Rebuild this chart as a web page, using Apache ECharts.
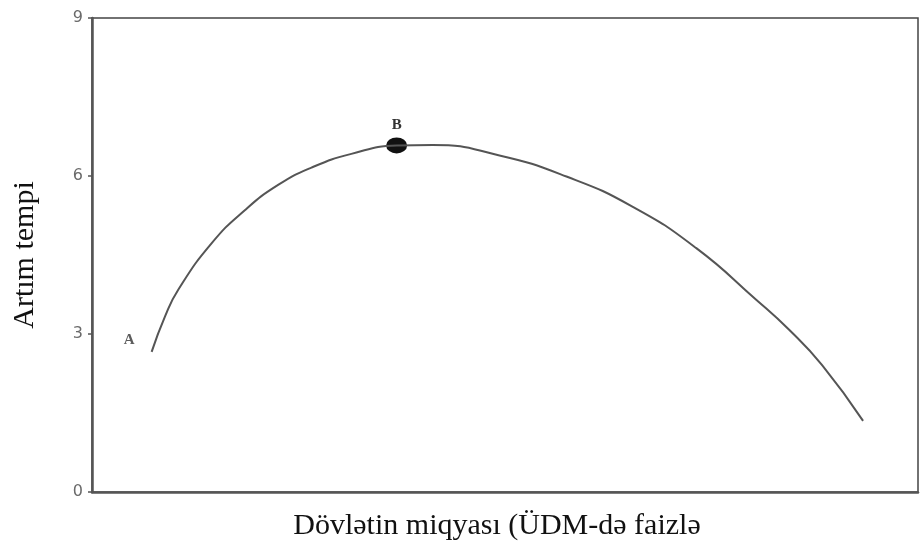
<!DOCTYPE html>
<html>
<head>
<meta charset="utf-8">
<script src="https://cdn.jsdelivr.net/npm/echarts@6/dist/echarts.min.js"></script>
<style>html,body{margin:0;padding:0;background:#fff}#c{width:920px;height:546px}</style>
</head>
<body>
<div id="c"></div>
<script>
// Curve x positions (share of the horizontal axis, 0-100) and growth rates
const curveX = [7.22, 8.83, 10.44, 14.47, 18.50, 22.53, 26.57, 31.40, 36.88, 41.23, 49.33, 57.44, 65.42, 73.16, 80.41, 84.40, 88.39, 93.35];
const curveY = [2.66, 3.33, 3.84, 4.72, 5.35, 5.83, 6.16, 6.42, 6.58, 6.59, 6.39, 5.99, 5.42, 4.63, 3.65, 3.08, 2.41, 1.35];
const pointA = [7.22, 2.66];
const pointB = [36.88, 6.58];
const yTicks = [0, 3, 6, 9];
const xTitle = 'Dövlətin miqyası (ÜDM-də faizlə';
const yTitle = 'Artım tempi';

const serif = '"Liberation Serif", "DejaVu Serif", serif';
const chart = echarts.init(document.getElementById('c'), null, {renderer: 'canvas'});
chart.setOption({
  animation: false,
  backgroundColor: '#fff',
  grid: {left: 92, right: 2, top: 18, bottom: 54, show: true, borderColor: '#444', borderWidth: 1.5},
  xAxis: {
    type: 'value', min: 0, max: 100,
    name: xTitle, nameLocation: 'middle', nameGap: 19,
    nameTextStyle: {fontFamily: serif, fontSize: 30, color: '#111', padding: [0, 16, 0, 0]},
    axisLine: {show: true, lineStyle: {color: '#555', width: 2.5}},
    axisTick: {show: false}, axisLabel: {show: false}, splitLine: {show: false}
  },
  yAxis: {
    type: 'value', min: 0, max: 9, interval: 3,
    name: yTitle, nameLocation: 'middle', nameGap: 52,
    nameTextStyle: {fontFamily: serif, fontSize: 30, color: '#111'},
    axisLine: {show: true, lineStyle: {color: '#555', width: 2.5}},
    axisTick: {show: true, length: 4, lineStyle: {color: '#555', width: 1.5}},
    axisLabel: {margin: 9, fontSize: 16, color: '#6a6a6a', fontFamily: '"DejaVu Sans", sans-serif',
      formatter: v => yTicks.includes(v) ? String(v) : ''},
    splitLine: {show: false}
  },
  series: [
    {
      type: 'line', smooth: true, showSymbol: false,
      data: curveX.map((x, i) => [x, curveY[i]]),
      lineStyle: {color: '#555', width: 2}
    },
    {
      type: 'scatter', symbol: 'circle', symbolSize: [21, 16],
      itemStyle: {color: '#111', opacity: 1},
      data: [pointB],
      label: {show: true, formatter: 'B', position: 'top', distance: 5,
        fontFamily: serif, fontSize: 15, fontWeight: 'bold', color: '#333'}
    },
    {
      type: 'scatter', symbolSize: 0,
      data: [pointA],
      label: {show: true, formatter: 'A', position: 'left', offset: [-12, -12],
        fontFamily: serif, fontSize: 15, fontWeight: 'bold', color: '#333'}
    }
  ]
});
</script>
</body>
</html>
